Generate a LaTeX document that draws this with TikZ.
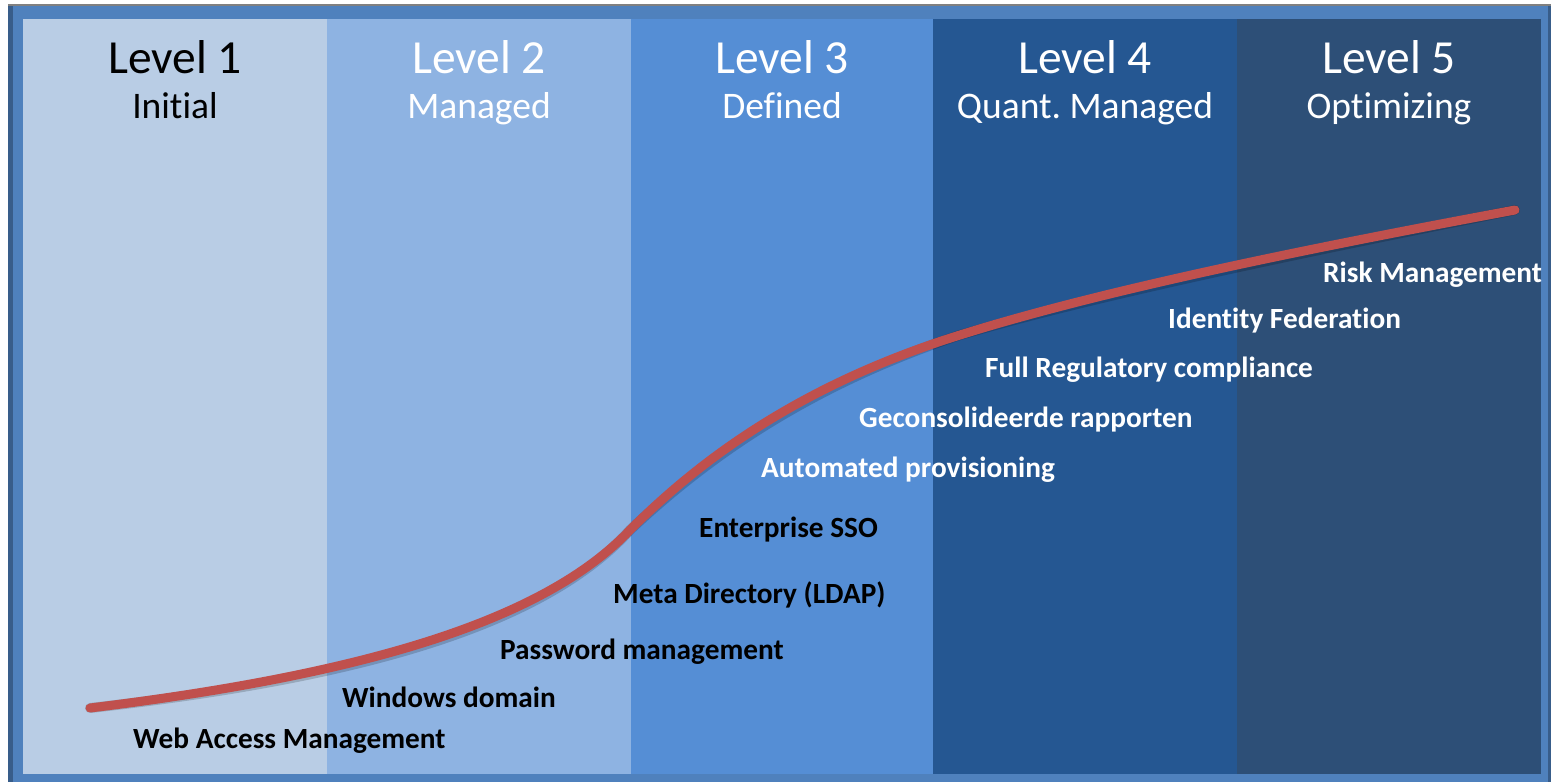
\documentclass[tikz,border=0pt]{standalone}
\usepackage{fontspec}
\setmainfont{Carlito}[Ligatures=NoCommon]
\usetikzlibrary{positioning}

\definecolor{frameblue}{HTML}{4F81BD}
\definecolor{framedark}{HTML}{385D8A}
\definecolor{lvlone}{HTML}{B9CDE5}
\definecolor{lvltwo}{HTML}{8EB3E2}
\definecolor{lvlthree}{HTML}{558ED5}
\definecolor{lvlfour}{HTML}{255792}
\definecolor{lvlfive}{HTML}{2D4F77}
\definecolor{curvered}{HTML}{C0504D}

\tikzset{
  lvltitle/.style={anchor=base, inner sep=0pt, font=\fontsize{47.5}{50}\selectfont},
  lvlsub/.style={anchor=base, inner sep=0pt, font=\fontsize{37.5}{40}\selectfont},
  step label/.style={anchor=base west, inner sep=0pt, font=\bfseries\fontsize{29.3}{32}\selectfont},
}

\begin{document}
\frenchspacing
\begin{tikzpicture}[x=1pt, y=-1pt]
    % Rahmen
    \useasboundingbox (0, 0) rectangle (1551, 782);
    \fill [white] (0, 0) rectangle (1551, 782);
    \fill [frameblue] (8, 4) rectangle (1551, 782);
    \fill [framedark] (8, 4) rectangle (13, 782);
    \fill [framedark] (1548, 4) rectangle (1551, 782);
    \fill [gray] (8, 4) rectangle (1551, 6);

    % Spalten
    \fill [lvlone]   (23, 19)   rectangle (327, 774);
    \fill [lvltwo]   (327, 19)  rectangle (631, 774);
    \fill [lvlthree] (631, 19)  rectangle (933, 774);
    \fill [lvlfour]  (933, 19)  rectangle (1237, 774);
    \fill [lvlfive]  (1237, 19) rectangle (1541, 774);

    % Titel
    \node [lvltitle]             (lvlA) at (175, 73)  {Level 1};
    \node [lvlsub]               (subA) at (175, 118) {Initial};
    \node [lvltitle, text=white] (lvlB) at (479, 73)  {Level 2};
    \node [lvlsub, text=white]   (subB) at (479, 118) {Managed};
    \node [lvltitle, text=white] (lvlC) at (782, 73)  {Level 3};
    \node [lvlsub, text=white]   (subC) at (782, 118) {Defined};
    \node [lvltitle, text=white] (lvlD) at (1085, 73) {Level 4};
    \node [lvlsub, text=white]   (subD) at (1085, 118) {Quant. Managed};
    \node [lvltitle, text=white] (lvlE) at (1389, 73) {Level 5};
    \node [lvlsub, text=white]   (subE) at (1389, 118) {Optimizing};

    % Kurvenpunkte
    \coordinate (start) at (90, 708);
    \coordinate (turn)  at (630, 530);
    \coordinate (knee)  at (960, 335);
    \coordinate (stop)  at (1515, 210);

    % Kurve (Schatten, dann Linie)
    \draw [black, opacity=0.18, line width=10pt, line cap=round, shift={(1.5, 3)}]
        (start) .. controls (350, 676) and (540, 625) .. (turn)
                .. controls (700, 460) and (800, 385) .. (knee)
                .. controls (1100, 291) and (1300, 250) .. (stop);
    \draw [curvered, line width=9pt, line cap=round]
        (start) .. controls (350, 676) and (540, 625) .. (turn)
                .. controls (700, 460) and (800, 385) .. (knee)
                .. controls (1100, 291) and (1300, 250) .. (stop);

    % Stufen
    \node [step label]             (wam)  at (133, 748)  {Web Access Management};
    \node [step label]             (wdom) at (342, 707)  {Windows domain};
    \node [step label]             (pwd)  at (500, 659)  {Password management};
    \node [step label]             (meta) at (613, 603)  {Meta Directory (LDAP)};
    \node [step label]             (sso)  at (699, 537)  {Enterprise SSO};
    \node [step label, text=white] (prov) at (761, 477)  {Automated provisioning};
    \node [step label, text=white] (rap)  at (859, 427)  {Geconsolideerde rapporten};
    \node [step label, text=white] (reg)  at (985, 377)  {Full Regulatory compliance};
    \node [step label, text=white] (fed)  at (1168, 328) {Identity Federation};
    \node [step label, text=white] (risk) at (1323, 282) {Risk Management};
\end{tikzpicture}
\end{document}
